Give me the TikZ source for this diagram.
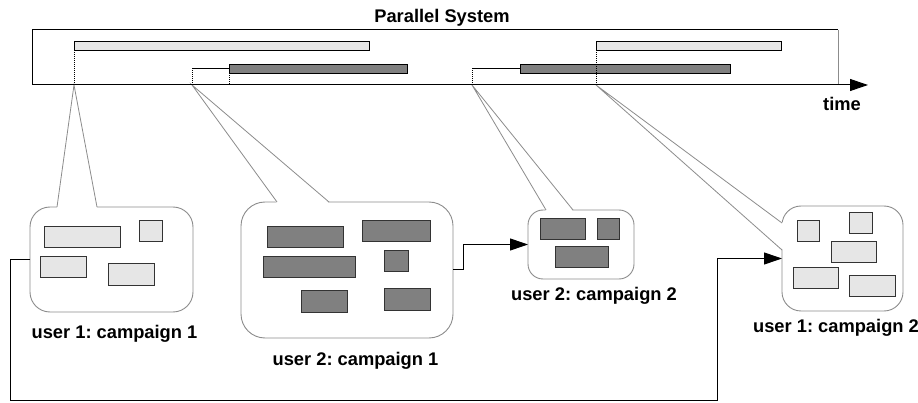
\documentclass[tikz,border=0pt]{standalone}
\usepackage{fontspec}
\setmainfont{Liberation Sans}
\usetikzlibrary{arrows.meta}
\frenchspacing
\definecolor{lightbar}{HTML}{E6E6E6}
\definecolor{darkbar}{HTML}{808080}
\definecolor{bubgray}{HTML}{8C8C8C}
\definecolor{rectedge}{HTML}{333333}
\newcommand\mkrect[6]{\node[#1, minimum width={(#5-#3)*1pt}, minimum height={(#6-#4)*1pt}, anchor=north west] (#2) at (#3,#4) {};}
\tikzset{
  lbar/.style={draw=black, fill=lightbar, line width=0.9pt, inner sep=0pt, outer sep=0pt},
  dbar/.style={draw=black, fill=darkbar, line width=0.9pt, inner sep=0pt, outer sep=0pt},
  lrect/.style={draw=rectedge, fill=lightbar, line width=1pt, inner sep=0pt, outer sep=0pt},
  drect/.style={draw=rectedge, fill=darkbar, line width=1pt, inner sep=0pt, outer sep=0pt},
  bubble/.style={draw=bubgray, fill=white, line width=0.9pt, inner sep=0pt, outer sep=0pt},
  pointer/.style={draw=bubgray, line width=0.8pt},
  dots/.style={draw=black, line width=0.9pt, dash pattern=on 1pt off 1pt},
  conn/.style={draw=black, line width=1pt, -{Triangle[length=18pt,width=12pt]}},
  lab/.style={font=\bfseries\fontsize{18.3}{20}\selectfont, inner sep=0pt, anchor=base},
}
\begin{document}
\begin{tikzpicture}[x=1pt,y=-1pt]
\useasboundingbox (0,0) rectangle (918,403);
% bubbles
\mkrect{bubble, rounded corners=20pt}{b1}{30}{207}{193}{312}
\mkrect{bubble, rounded corners=24pt}{b2}{241}{202}{453}{338}
\mkrect{bubble, rounded corners=15pt}{b3}{528}{210}{634}{279}
\mkrect{bubble, rounded corners=19pt}{b4}{782}{206}{903}{311}
% pointer apexes
\coordinate (a1) at (74,85);
\coordinate (a2) at (192,85);
\coordinate (a3) at (472,85);
\coordinate (a4) at (596,85);
% pointers
\fill[white] (57,208.2) -- (a1) -- (97,208.2) -- cycle;
\draw[pointer] (57,207) -- (a1) -- (97,207);
\fill[white] (277,203.2) -- (a2) -- (329,203.2) -- cycle;
\draw[pointer] (277,202) -- (a2) -- (329,202);
\fill[white] (546,211.2) -- (a3) -- (573,211.2) -- cycle;
\draw[pointer] (546,210) -- (a3) -- (573,210);
\fill[white] (783.2,223) -- (a4) -- (783.2,250) -- cycle;
\draw[pointer] (782,223) -- (a4) -- (782,250);
% inner blocks bubble 1
\mkrect{lrect}{k11}{44}{227}{120}{248}
\mkrect{lrect}{k12}{139}{221}{162}{242}
\mkrect{lrect}{k13}{40}{257}{86}{278}
\mkrect{lrect}{k14}{108}{264}{154}{286}
% bubble 2
\mkrect{drect}{k21}{267}{227}{343}{248}
\mkrect{drect}{k22}{362}{221}{430}{242}
\mkrect{drect}{k23}{263}{257}{355}{278}
\mkrect{drect}{k24}{384}{251}{408}{272}
\mkrect{drect}{k25}{301}{291}{347}{312}
\mkrect{drect}{k26}{384}{289}{430}{310}
% bubble 3
\mkrect{drect}{k31}{540}{219}{585}{240}
\mkrect{drect}{k32}{597}{219}{619}{240}
\mkrect{drect}{k33}{555}{247}{608}{268}
% bubble 4
\mkrect{lrect}{k41}{797}{221}{819}{242}
\mkrect{lrect}{k42}{849}{213}{872}{234}
\mkrect{lrect}{k43}{831}{242}{876}{263}
\mkrect{lrect}{k44}{793}{268}{838}{289}
\mkrect{lrect}{k45}{849}{276}{895}{297}
% timeline box
\coordinate (tstart) at (32,85);
\coordinate (tend) at (868,85);
\coordinate (tl) at (32,30);
\coordinate (tr) at (838,30);
\draw[line width=1pt] (tstart) -- (tl) -- (tr);
\draw[bubgray, line width=1pt] (tr) -- (tr |- tstart);
\draw[line width=1pt, -{Triangle[length=18pt,width=12pt]}] (tstart) -- (tend);
% bars
\mkrect{lbar}{bar1}{74}{41}{369}{50}
\mkrect{dbar}{bar2}{229}{64}{407}{73}
\mkrect{dbar}{bar3}{520}{64}{730}{73}
\mkrect{lbar}{bar4}{596}{41}{781}{50}
\coordinate (r2) at (192,68.5);
\coordinate (r3) at (472,68.5);
\draw[line width=0.9pt] (r2) -- (bar2.west);
\draw[line width=0.9pt] (r3) -- (bar3.west);
\draw[dots] (bar1.south west) -- (bar1.south west |- tstart);
\draw[dots] (r2) -- (a2);
\draw[dots] (bar2.south west) -- (bar2.south west |- tstart);
\draw[dots] (r3) -- (a3);
\draw[dots] (bar4.south west) -- (a4);
% connectors
\draw[conn] (b2.east) -- (463,270) |- (b3.west);
\draw[conn] (b1.west) -- (10,259.5) -- (10,400) -- (717,400) |- (b4.west);
% labels
\node[lab] (title) at (442,23) {Parallel System};
\node[lab] (tlab) at (842,111) {time};
\node[lab] (t1) at (114.5,338) {user 1: campaign 1};
\node[lab] (t2) at (355.5,365) {user 2: campaign 1};
\node[lab] (t3) at (594,301) {user 2: campaign 2};
\node[lab] (t4) at (836,332) {user 1: campaign 2};
\end{tikzpicture}
\end{document}
